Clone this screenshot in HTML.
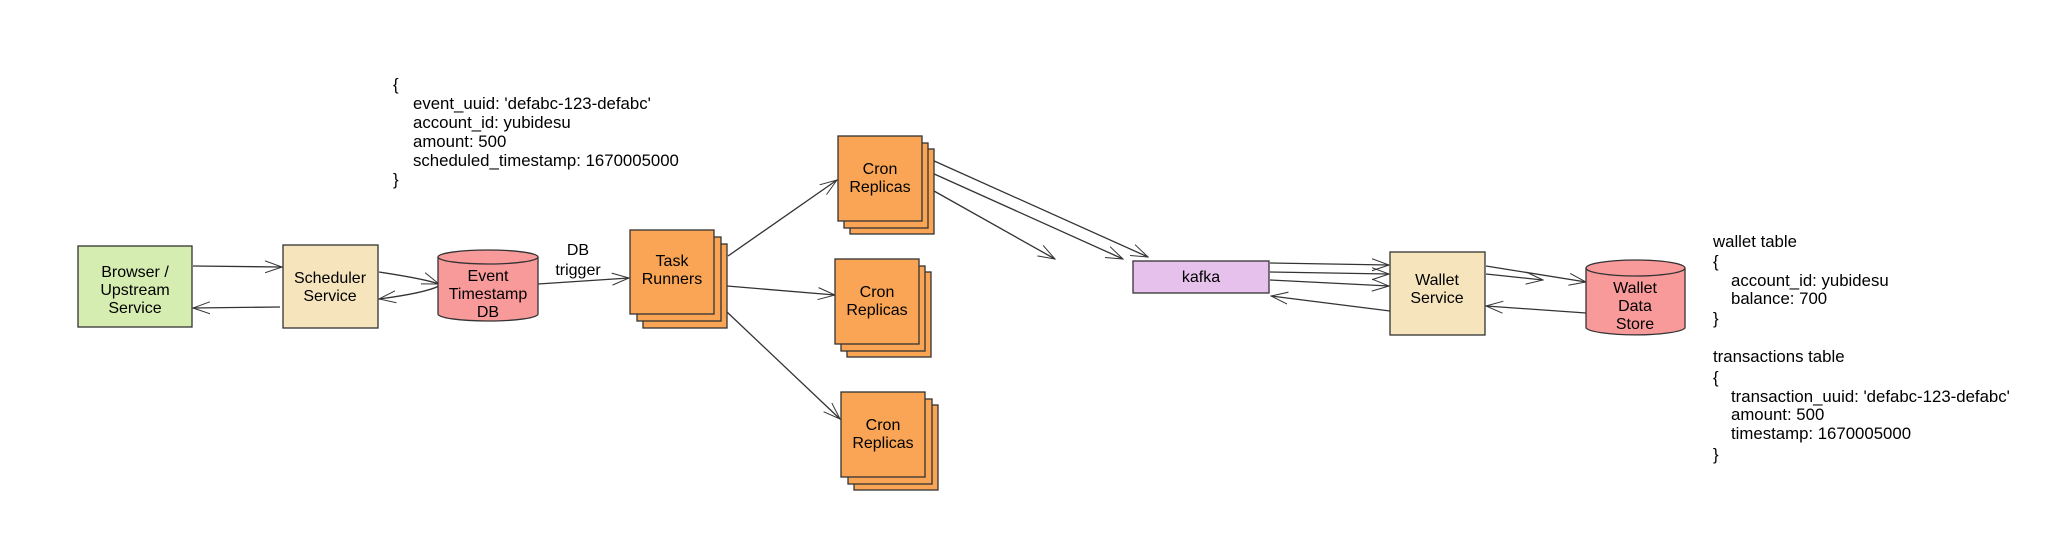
<!DOCTYPE html>
<html><head><meta charset="utf-8"><style>
html,body{margin:0;padding:0;background:#fff;}
svg{display:block;}
text{font-family:"Liberation Sans",Arial,sans-serif;font-size:16px;fill:#000;}
.j text{font-size:16.8px;}
</style></head><body>
<svg width="2068" height="559" viewBox="0 0 2068 559" xmlns="http://www.w3.org/2000/svg">
<defs>
<marker id="a" viewBox="0 0 18 14" refX="17" refY="7" markerWidth="18" markerHeight="14" orient="auto" markerUnits="userSpaceOnUse">
<path d="M0,1 L17,7 L0,13" fill="none" stroke="#333" stroke-width="1"/>
</marker>
</defs>
<g stroke="#333" stroke-width="1.3" fill="none" marker-end="url(#a)">
<line x1="193" y1="266" x2="282" y2="267"/>
<line x1="280" y1="307" x2="193" y2="308"/>
<path d="M379,272 Q425,279 439,284"/>
<path d="M439,286 Q425,293 379,299"/>
<line x1="538" y1="284" x2="629" y2="278"/>
<line x1="728" y1="256" x2="837" y2="180"/>
<line x1="727" y1="286" x2="835" y2="295"/>
<line x1="727" y1="312" x2="840" y2="419"/>
<line x1="932" y1="160" x2="1148" y2="257"/>
<line x1="932" y1="173" x2="1123" y2="259"/>
<line x1="934" y1="191" x2="1055" y2="259"/>
<line x1="1270" y1="263" x2="1389" y2="265"/>
<line x1="1270" y1="272" x2="1389" y2="274"/>
<line x1="1270" y1="280" x2="1389" y2="286"/>
<line x1="1390" y1="311" x2="1271" y2="296"/>
<line x1="1486" y1="266" x2="1586" y2="282"/>
<line x1="1486" y1="274" x2="1543" y2="280"/>
<line x1="1586" y1="313" x2="1486" y2="306"/>
</g>
<g stroke="#333" stroke-width="1.3">
<rect x="78" y="246" width="114" height="81" fill="#d5edb0"/>
<rect x="283" y="245" width="95" height="83" fill="#f6e4bd"/>
<path d="M438,257 L438,314 A50,7 0 0 0 538,314 L538,257" fill="#f8999a"/>
<ellipse cx="488" cy="257" rx="50" ry="7" fill="#f8999a"/>
<rect x="643" y="244" width="84" height="84" fill="#f9a555"/>
<rect x="637" y="237" width="84" height="84" fill="#f9a555"/>
<rect x="630" y="230" width="84" height="84" fill="#f9a555"/>
<rect x="850" y="149" width="84" height="85" fill="#f9a555"/>
<rect x="844" y="143" width="84" height="85" fill="#f9a555"/>
<rect x="838" y="136" width="84" height="85" fill="#f9a555"/>
<rect x="847" y="272" width="84" height="85" fill="#f9a555"/>
<rect x="841" y="266" width="84" height="85" fill="#f9a555"/>
<rect x="835" y="259" width="84" height="85" fill="#f9a555"/>
<rect x="854" y="405" width="84" height="85" fill="#f9a555"/>
<rect x="848" y="399" width="84" height="85" fill="#f9a555"/>
<rect x="841" y="392" width="84" height="85" fill="#f9a555"/>
<rect x="1133" y="261" width="136" height="32" fill="#e5c1ec"/>
<rect x="1390" y="252" width="95" height="83" fill="#f6e4bd"/>
<path d="M1586,268 L1586,328 A50,8 0 0 0 1685,328 L1685,268" fill="#f8999a"/>
<ellipse cx="1635.5" cy="268" rx="49.5" ry="8" fill="#f8999a"/>
</g>
<g text-anchor="middle">
<text x="135" y="277">Browser /</text><text x="135" y="295">Upstream</text><text x="135" y="313">Service</text>
<text x="330" y="283">Scheduler</text><text x="330" y="301">Service</text>
<text x="488" y="281">Event</text><text x="488" y="299">Timestamp</text><text x="488" y="317">DB</text>
<text x="578" y="255">DB</text><text x="578" y="275">trigger</text>
<text x="672" y="266">Task</text><text x="672" y="284">Runners</text>
<text x="880" y="174">Cron</text><text x="880" y="192">Replicas</text>
<text x="877" y="297">Cron</text><text x="877" y="315">Replicas</text>
<text x="883" y="430">Cron</text><text x="883" y="448">Replicas</text>
<text x="1201" y="282">kafka</text>
<text x="1437" y="285">Wallet</text><text x="1437" y="303">Service</text>
<text x="1635" y="293">Wallet</text><text x="1635" y="311">Data</text><text x="1635" y="329">Store</text>
</g>
<g class="j">
<text x="393" y="90">{</text>
<text x="413" y="109">event_uuid: 'defabc-123-defabc'</text>
<text x="413" y="128">account_id: yubidesu</text>
<text x="413" y="147">amount: 500</text>
<text x="413" y="166">scheduled_timestamp: 1670005000</text>
<text x="393" y="185">}</text>
<text x="1713" y="247">wallet table</text>
<text x="1713" y="267">{</text>
<text x="1731" y="286">account_id: yubidesu</text>
<text x="1731" y="304">balance: 700</text>
<text x="1713" y="324">}</text>
<text x="1713" y="362">transactions table</text>
<text x="1713" y="383">{</text>
<text x="1731" y="402">transaction_uuid: 'defabc-123-defabc'</text>
<text x="1731" y="420">amount: 500</text>
<text x="1731" y="439">timestamp: 1670005000</text>
<text x="1713" y="460">}</text>
</g>
</svg>
</body></html>
